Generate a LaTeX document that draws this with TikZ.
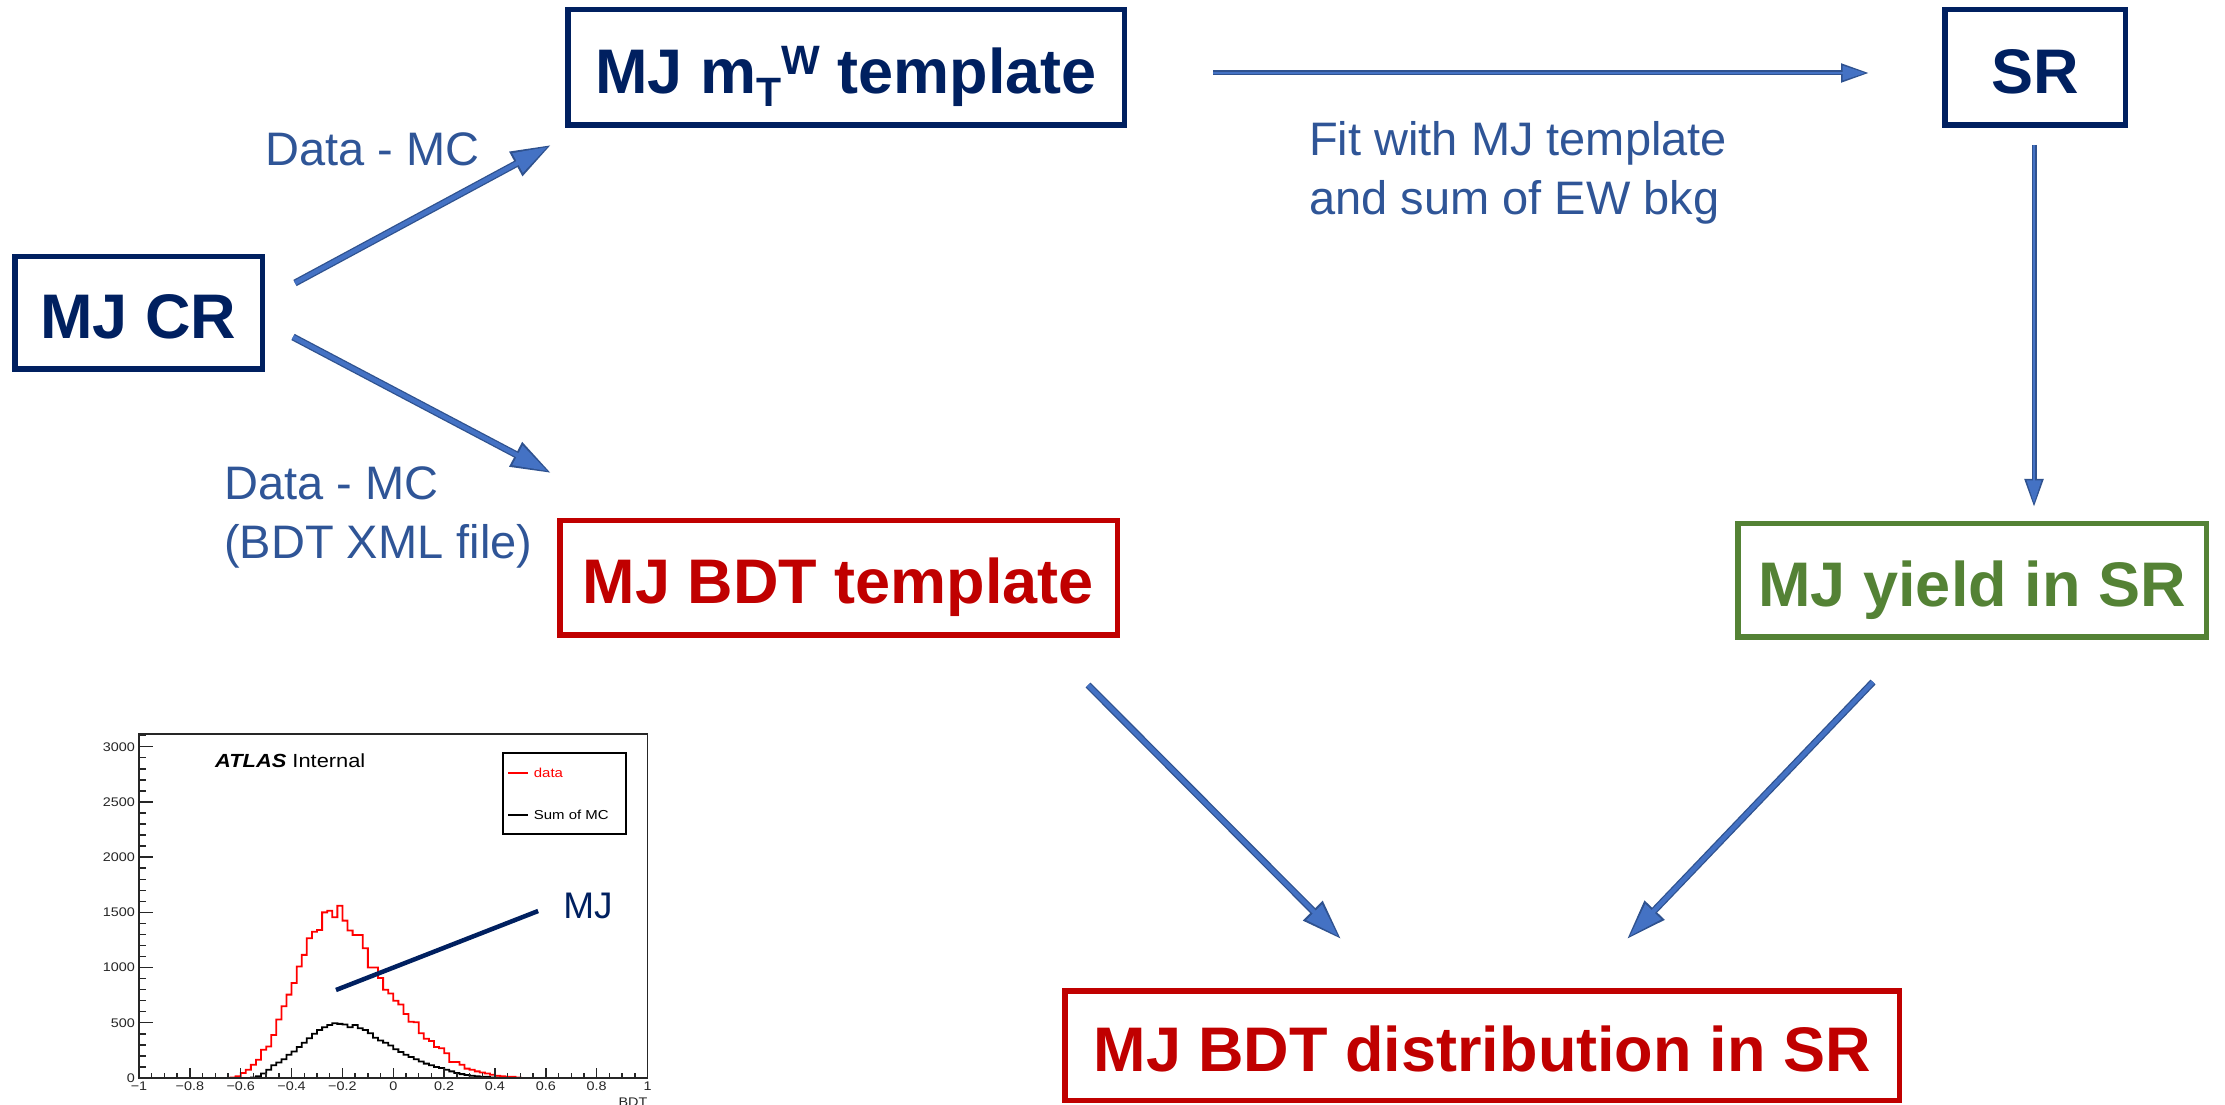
\documentclass[tikz,border=0pt]{standalone}
\usepackage{fontspec}
\setmainfont{Liberation Sans}
\newfontfamily\plotfont[FakeStretch=1.15]{Liberation Sans}
\usetikzlibrary{arrows.meta,calc}
\definecolor{boxnavy}{HTML}{002060}
\definecolor{boxred}{HTML}{C00000}
\definecolor{boxgreen}{HTML}{548235}
\definecolor{lblblue}{HTML}{2F5597}
\definecolor{arrowfill}{HTML}{4472C4}
\definecolor{arrowline}{HTML}{2F528F}
\definecolor{histred}{HTML}{FF0000}
\definecolor{axisgray}{HTML}{262626}
\tikzset{
  flowbox/.style={draw=#1, text=#1, line width=5.5pt, inner sep=0pt,
    text height=52pt, text depth=0pt,
    font=\fontsize{63}{70}\selectfont\bfseries},
  lbl/.style={font=\fontsize{47}{59.5}\selectfont, text=lblblue, inner sep=0pt},
  bigarrow/.style={
    preaction={draw=arrowline, line width=7pt, shorten >=0pt,
      -{Triangle[length=40pt,width=26pt]}},
    draw=arrowfill, line width=4.4pt, shorten >=4pt,
    -{Triangle[length=34pt,width=21pt]}},
  smallarrow/.style={
    preaction={draw=arrowline, line width=5pt, shorten >=0pt,
      -{Triangle[length=28pt,width=18pt]}},
    draw=arrowfill, line width=2.8pt, shorten >=3.5pt,
    -{Triangle[length=23pt,width=14pt]}},
  axis/.style={draw=axisgray, line width=1.4pt},
  ticklbl/.style={font=\plotfont\fontsize{12.5}{14}\selectfont, inner sep=0pt, text=axisgray},
  legtxt/.style={font=\plotfont\fontsize{13}{15}\selectfont, inner sep=0pt, anchor=west},
  histline/.style={line width=1.8pt, line join=miter},
}
\begin{document}
\begin{tikzpicture}[x=1pt,y=1pt]
\useasboundingbox (0,0) rectangle (2225,1104);
\clip (0,0) rectangle (2225,1104);
\fill[white] (0,0) rectangle (2225,1104);

% ---- process boxes ----
\node[flowbox=boxnavy, minimum width=556.5pt, minimum height=115.5pt] (mtw) at (846,1036.5)
  {MJ m\raisebox{-13pt}{\fontsize{41}{41}\selectfont T}\raisebox{19pt}{\fontsize{41}{41}\selectfont W} template};
\node[flowbox=boxnavy, minimum width=180.5pt, minimum height=115.5pt] (sr) at (2035,1036.5) {SR};
\node[flowbox=boxnavy, minimum width=247.5pt, minimum height=112.5pt] (cr) at (138.5,791) {MJ CR};
\node[flowbox=boxred, minimum width=557.5pt, minimum height=114.5pt] (bdt) at (838.5,526) {MJ BDT template};
\node[flowbox=boxgreen, minimum width=468.5pt, minimum height=113.5pt] (yield) at (1972,523.5) {MJ yield in SR};
\node[flowbox=boxred, minimum width=834.5pt, minimum height=109.5pt] (dist) at (1482,58.5) {MJ BDT distribution in SR};

% ---- connectors ----
\draw[bigarrow] ($(cr.east)+(30,30)$) -- ($(mtw.south west)+(-14,-17)$);
\draw[bigarrow] ($(cr.east)+(28,-24)$) -- ($(bdt.north west)+(-6,45)$);
\draw[smallarrow] ($(mtw.east)+(86,-5.5)$) -- ($(sr.west)+(-73,-5.5)$);
\draw[smallarrow] ($(sr.south)+(-1,-17)$) -- ($(sr.south |- yield.north)+(-1,14)$);
\draw[bigarrow] ($(bdt.south east)+(-32,-47)$) -- ($(dist.north west)+(279,49)$);
\draw[bigarrow] ($(yield.south west)+(138,-42)$) -- ($(dist.north)+(145,49)$);

% ---- connector labels ----
\node[lbl, anchor=base west] (dmc) at (265,938) {Data - MC};
\node[lbl, anchor=north west, align=left] (dmcxml) at (224,638) {Data - MC\\(BDT XML file)};
\node[lbl, anchor=north west, align=left] (fitlbl) at (1309,983) {Fit with MJ template\\and sum of EW bkg};

% ---- BDT distribution plot ----
\begin{scope}[shift={(139,26)}, x=254.25pt, y=0.11043pt]
  % simulation sum
  \draw[histline, black] (0,0) -- (0.44,0)
    \foreach \v [count=\i from 22] in {5,15,40,75,115,140,170,210,240,280,320,360,400,435,460,480,495,490,485,460,480,450,435,405,365,340,320,295,260,235,210,190,170,150,130,115,100,90,75,60,45,35,27,20,15,10,10,5,5}
      { -- ({\i*0.02},\v) -- ({\i*0.02+0.02},\v) } -- (1.42,0) -- (2,0);
  % data
  \draw[histline, histred] (0,0) -- (0.36,0)
    \foreach \v [count=\i from 18] in {5,15,45,75,120,165,255,285,390,530,650,755,860,1010,1115,1265,1325,1340,1500,1515,1455,1560,1425,1335,1295,1295,1175,1000,1000,905,800,765,700,665,580,510,505,405,355,335,280,270,225,145,145,120,85,75,60,50,40,30,20,15,10,10,5}
      { -- ({\i*0.02},\v) -- ({\i*0.02+0.02},\v) } -- (1.5,0) -- (2,0);
  % frame and ticks
  \draw[axis] (0,0) rectangle (2,3115);
  \foreach \c in {0,100,...,3100} \draw[axis] (0,\c) -- ++(7pt,0pt);
  \foreach \c in {0,500,...,3000} {
    \draw[axis] (0,\c) -- ++(14pt,0pt);
    \node[ticklbl, anchor=east, xshift=-4pt] (ylab\c) at (0,\c) {\c};
  }
  \foreach \b in {0,0.05,...,2.01} \draw[axis] (\b,0) -- ++(0pt,5pt);
  \foreach \b/\t [count=\k] in {0/−1,0.2/−0.8,0.4/−0.6,0.6/−0.4,0.8/−0.2,1/0,1.2/0.2,1.4/0.4,1.6/0.6,1.8/0.8,2/1} {
    \draw[axis] (\b,0) -- ++(0pt,10pt);
    \node[ticklbl, anchor=north, yshift=-4pt] (xlab\k) at (\b,0) {\t};
  }
\end{scope}
\node[ticklbl, anchor=north east] (xtitle) at (647.5,6) {BDT};
\node[font=\plotfont\fontsize{19}{22}\selectfont, inner sep=0pt, anchor=base west] (atlas) at (215,336)
  {\textbf{\textit{ATLAS}} Internal};

% legend
\draw[black, line width=1.2pt] (503,270) rectangle (626,351);
\coordinate (ldata) at (508,331);
\coordinate (lmc) at (508,289);
\draw[histred, line width=1.8pt] (ldata) -- ++(20,0) node[legtxt, xshift=5pt] (legdata) {data};
\draw[black, line width=1.8pt] (lmc) -- ++(20,0) node[legtxt, xshift=5pt] (legmc) {Sum of MC};

% MJ annotation
\node[text=boxnavy, font=\fontsize{37}{40}\selectfont, inner sep=0pt] (mjlbl) at (588,198) {MJ};
\coordinate (mjtail) at (336,114);
\draw[boxnavy, line width=4.5pt] (mjtail) -- ($(mjlbl.west)+(-25,-5)$);
\end{tikzpicture}
\end{document}
